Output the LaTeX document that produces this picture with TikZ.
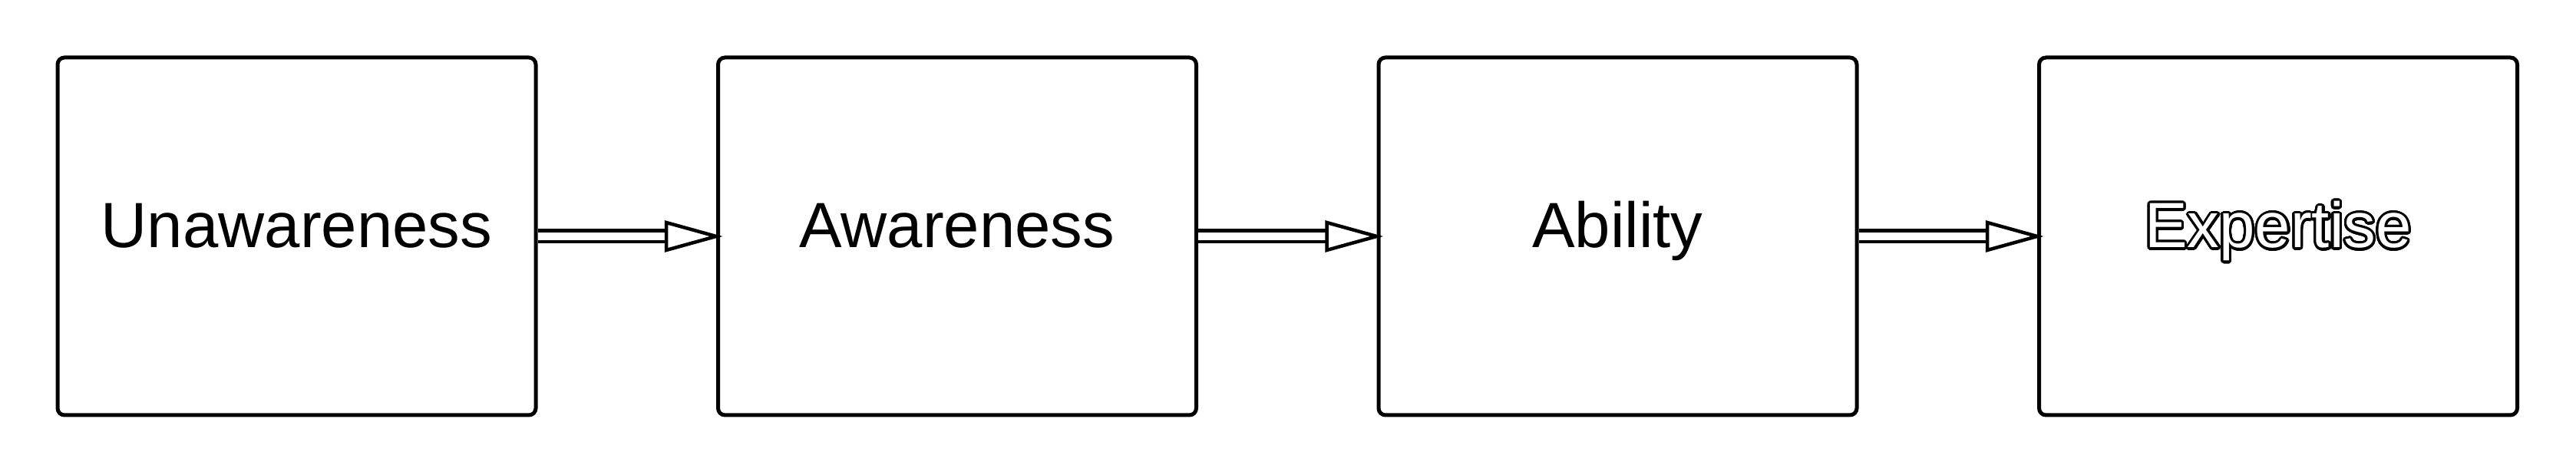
\documentclass[tikz,border=0pt]{standalone}
\usepackage{fontspec}
\setmainfont{Liberation Sans}
\usepackage{xcolor}
\usepackage{contour}
\contourlength{0.9pt}
\contournumber{32}
\usepackage{tikz}
\usetikzlibrary{arrows.meta,calc,positioning}
\tikzset{
  stagebox/.style={draw=black,fill=white,line width=0.05cm,rounded corners=0.9mm,minimum width=6.23cm,minimum height=4.66cm,align=center,text height=0.5cm,text depth=0.2cm,font=\fontsize{23.7}{28}\selectfont},
  shaft/.style={draw=black,line width=0.045cm,double=white,double distance=0.1cm},
  tiphead/.style={draw=black,fill=white,line width=0.045cm,line join=miter}
}
\begin{document}
\begin{tikzpicture}[node distance=1.0cm and 2.325cm]
  \useasboundingbox (0,0) rectangle (33.56,6.19);
  \node[stagebox] (unaware) at (3.865,3.11) {Unawareness};
  \node[stagebox,right=of unaware] (aware) {Awareness};
  \node[stagebox,right=of aware] (ability) {Ability};
  \node[stagebox,right=of ability] (expert) {\textcolor{white}{\contour{black}{Expertise}}};
  \foreach \from/\to in {unaware/aware,aware/ability,ability/expert}{
    \draw[shaft] (\from.east) -- ([xshift=-0.65cm]\to.west);
    \draw[tiphead] (\to.west) -- ++(-0.65,0.18) -- ++(0,-0.36) -- cycle;
  }
\end{tikzpicture}
\end{document}
